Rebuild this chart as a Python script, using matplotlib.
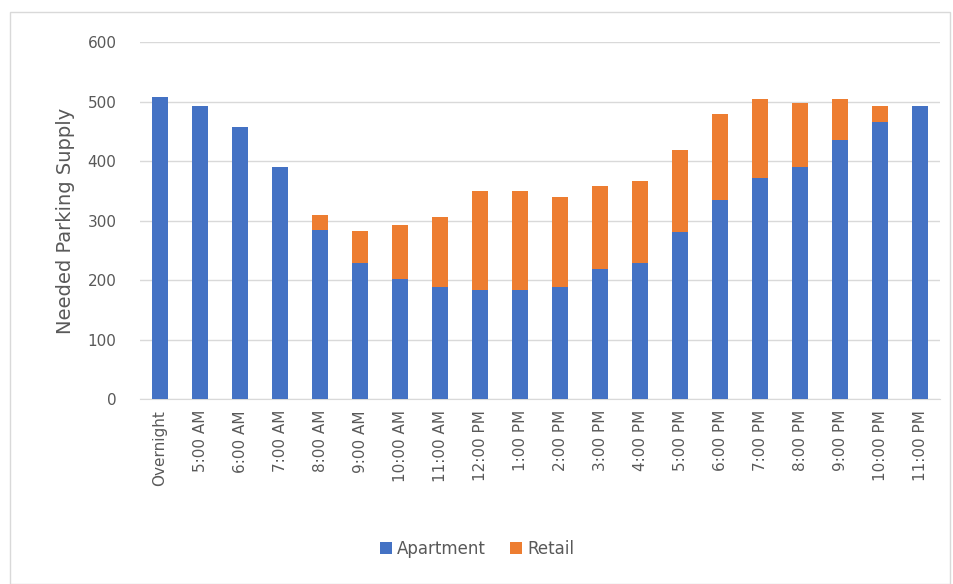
import matplotlib
matplotlib.use("Agg")
import matplotlib.pyplot as plt
from matplotlib.patches import Rectangle
import numpy as np

# hours of the day
times = ["Overnight", "5:00 AM", "6:00 AM", "7:00 AM", "8:00 AM", "9:00 AM",
         "10:00 AM", "11:00 AM", "12:00 PM", "1:00 PM", "2:00 PM", "3:00 PM",
         "4:00 PM", "5:00 PM", "6:00 PM", "7:00 PM", "8:00 PM", "9:00 PM",
         "10:00 PM", "11:00 PM"]

apartment = [508, 493, 457, 390, 284, 228, 201, 188, 183, 183, 189, 218,
             228, 280, 334, 372, 390, 435, 465, 493]
total = [508, 493, 457, 390, 309, 282, 293, 306, 349, 349, 339, 358,
         366, 419, 479, 505, 497, 505, 493, 493]
retail = [t - a for t, a in zip(total, apartment)]

blue = "#4472C4"
orange = "#ED7D31"
grey = "#595959"

plt.rcParams['font.family'] = ['DejaVu Sans']

fig = plt.figure(figsize=(9.54, 5.84), dpi=100)
fig.patches.append(Rectangle((10 / 954, 0), 940 / 954, 572 / 584, transform=fig.transFigure,
                             fill=False, edgecolor="#D9D9D9", linewidth=1))
ax = fig.add_axes([0.1468, 0.3168, 0.8386, 0.611])

x = np.arange(len(times))
ax.bar(x, apartment, width=0.4, color=blue, label="Apartment", zorder=3)
ax.bar(x, retail, width=0.4, bottom=apartment, color=orange, label="Retail", zorder=3)

ax.set_xlim(-0.5, len(times) - 0.5)
ax.set_ylim(0, 600)
ax.set_yticks(range(0, 601, 100))
ax.yaxis.grid(True, color="#D9D9D9", linewidth=1, zorder=0)
ax.set_xticks(x)
ax.set_xticklabels(times, rotation=90)
ax.tick_params(axis="both", length=0, labelsize=11, labelcolor=grey, pad=8)
ax.tick_params(axis="y", pad=17)

for s in ["top", "right", "left"]:
    ax.spines[s].set_visible(False)
ax.spines["bottom"].set_color("#D9D9D9")

ax.set_ylabel("Needed Parking Supply", fontsize=14, color=grey, labelpad=9)

fig.legend(loc="center", bbox_to_anchor=(0.5, 0.06), ncol=2, frameon=False,
           fontsize=12, labelcolor=grey, handlelength=0.7, handleheight=0.7,
           handletextpad=0.3, columnspacing=1.5)

fig.savefig("out.png", dpi=100)
